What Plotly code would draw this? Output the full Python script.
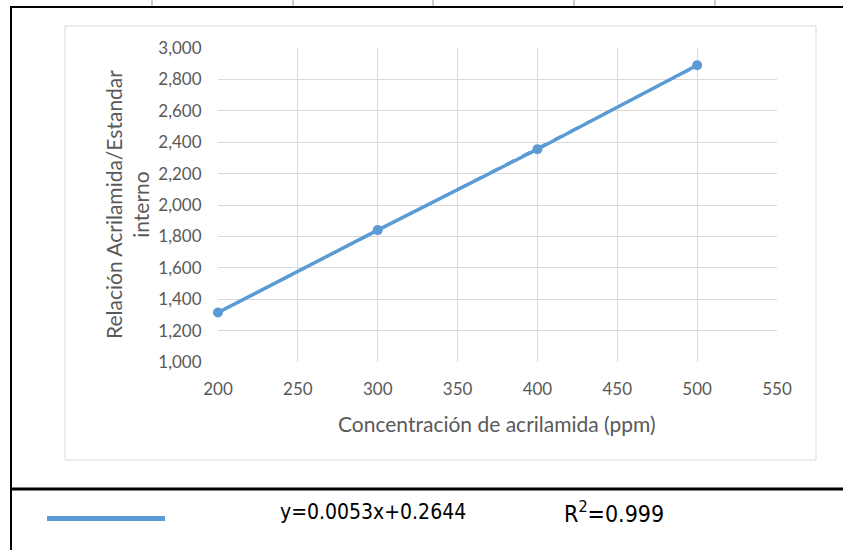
import numpy as np
import plotly.graph_objects as go

# Calibration data: acrylamide concentration vs. analyte/internal-standard ratio
concentracion = [200, 300, 400, 500]
relacion = [1.315, 1.840, 2.355, 2.890]

# Linear fit as reported on the curve (rounded)
ecuacion = "y=0.0053x+0.2644"
r2_texto = "0.999"

x_ticks = [200, 250, 300, 350, 400, 450, 500, 550]
y_ticks = [1.0, 1.2, 1.4, 1.6, 1.8, 2.0, 2.2, 2.4, 2.6, 2.8, 3.0]

W, H = 843, 550
ML, MR, MT, MB = 218, 66, 48, 188
PW, PH = W - ML - MR, H - MT - MB

BLUE = "#5b9bd5"
GREY_TXT = "#595959"
GRID = "#d9d9d9"
FONT = "Lato, 'Open Sans', sans-serif"
FONT_TABLE = "'Liberation Sans Narrow', 'DejaVu Sans Condensed', Lato, sans-serif"


def px(x):
    return (x - ML) / PW


def py(y):
    return (H - MB - y) / PH


# least-squares trendline through the calibration points
pend, inter = np.polyfit(concentracion, relacion, 1)
fit_x = [concentracion[0], concentracion[-1]]
fit_y = [pend * v + inter for v in fit_x]

fig = go.Figure()
fig.add_trace(go.Scatter(
    x=concentracion, y=relacion, mode="lines+markers",
    line=dict(color=BLUE, width=3.5),
    marker=dict(color=BLUE, size=10),
    cliponaxis=False, showlegend=False,
))
fig.add_trace(go.Scatter(
    x=fit_x, y=fit_y, mode="lines",
    line=dict(color=BLUE, width=2.5, dash="dash"),
    cliponaxis=False, showlegend=False, hoverinfo="skip",
))

shapes = [
    # chart area frame
    dict(type="rect", xref="paper", yref="paper",
         x0=px(65), x1=px(816), y0=py(26), y1=py(460),
         line=dict(color=GRID, width=1), layer="below"),
    # table borders
    dict(type="line", xref="paper", yref="paper",
         x0=px(10), x1=px(843), y0=py(7), y1=py(7),
         line=dict(color="black", width=2)),
    dict(type="line", xref="paper", yref="paper",
         x0=px(11), x1=px(11), y0=py(6), y1=py(550),
         line=dict(color="black", width=2)),
    dict(type="line", xref="paper", yref="paper",
         x0=px(10), x1=px(843), y0=py(489), y1=py(489),
         line=dict(color="black", width=3)),
    # legend swatch in the table row
    dict(type="line", xref="paper", yref="paper",
         x0=px(47), x1=px(165), y0=py(518.5), y1=py(518.5),
         line=dict(color=BLUE, width=5)),
]
for cx in [152, 293, 433, 574, 715]:
    shapes.append(dict(type="line", xref="paper", yref="paper",
                       x0=px(cx), x1=px(cx), y0=py(0), y1=py(6),
                       line=dict(color="#9a9a9a", width=1)))

annotations = [
    dict(text="Concentración de acrilamida (ppm)", xref="paper", yref="paper",
         x=px(497), y=py(423), showarrow=False,
         font=dict(family=FONT, size=21, color=GREY_TXT),
         xanchor="center", yanchor="middle"),
    dict(text="Relación Acrilamida/Estandar<br>interno", xref="paper", yref="paper",
         x=px(127), y=py(205), showarrow=False, textangle=-90,
         font=dict(family=FONT, size=21, color=GREY_TXT),
         xanchor="center", yanchor="middle"),
    dict(text=ecuacion, xref="paper", yref="paper",
         x=px(373), y=py(512), showarrow=False,
         font=dict(family=FONT_TABLE, size=21, color="black"),
         xanchor="center", yanchor="middle"),
    dict(text=f"R<sup>2</sup>={r2_texto}", xref="paper", yref="paper",
         x=px(614), y=py(512), showarrow=False,
         font=dict(family=FONT_TABLE, size=23, color="black"),
         xanchor="center", yanchor="middle"),
]

fig.update_layout(
    width=W, height=H,
    margin=dict(l=ML, r=MR, t=MT, b=MB, autoexpand=False),
    paper_bgcolor="white", plot_bgcolor="white",
    separators=",.",
    font=dict(family=FONT, size=17, color=GREY_TXT),
    shapes=shapes, annotations=annotations,
    xaxis=dict(range=[200, 550], tickvals=x_ticks, showgrid=True,
               gridcolor=GRID, gridwidth=1, zeroline=False, showline=False,
               ticks="outside", ticklen=12, tickcolor="rgba(0,0,0,0)",
               tickfont=dict(size=17, color=GREY_TXT)),
    yaxis=dict(range=[1.0, 3.0], tickvals=y_ticks, tickformat=".3f",
               showgrid=True, gridcolor=GRID, gridwidth=1, zeroline=False,
               showline=False, ticks="outside", ticklen=12,
               tickcolor="rgba(0,0,0,0)",
               tickfont=dict(size=17, color=GREY_TXT)),
)

fig.write_html("out.html")
